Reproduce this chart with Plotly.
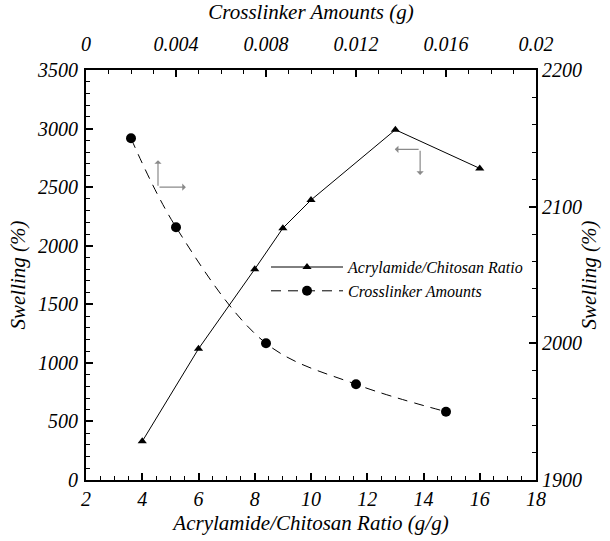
import plotly.graph_objects as go

# Series 1: Acrylamide/Chitosan ratio (bottom x, left y)
ratio_x = [4, 6, 8, 9, 10, 13, 16]
ratio_swelling = [330, 1120, 1800, 2150, 2390, 2990, 2660]

# Series 2: Crosslinker amounts (top x, right y)
cross_x = [0.002, 0.004, 0.008, 0.012, 0.016]
cross_swelling = [2150, 2085, 2000, 1970, 1950]

FONT = "Liberation Serif"
tickfont = dict(family=FONT, size=20, style="italic")
titlefont = dict(family=FONT, size=21, style="italic")

fig = go.Figure()
fig.add_trace(go.Scatter(
    x=ratio_x, y=ratio_swelling, name="Acrylamide/Chitosan Ratio",
    mode="lines+markers", line=dict(color="black", width=1),
    marker=dict(symbol="triangle-up", size=8, color="black"),
    xaxis="x", yaxis="y"))
fig.add_trace(go.Scatter(
    x=cross_x, y=cross_swelling, name="Crosslinker Amounts",
    mode="lines+markers", line=dict(color="black", width=1, dash="10px,7px", shape="spline"),
    marker=dict(symbol="circle", size=10, color="black"),
    xaxis="x2", yaxis="y2"))

axis_common = dict(showgrid=False, zeroline=False, showline=True, linecolor="black",
                   linewidth=2, ticks="inside", tickcolor="black", tickwidth=2,
                   ticklen=7, tickfont=tickfont)

fig.update_layout(
    template="none",
    font=dict(family=FONT, size=16, color="black", style="italic"),
    width=610, height=541,
    margin=dict(l=86, r=74, t=70, b=61),
    paper_bgcolor="white", plot_bgcolor="white",
    showlegend=True,
    legend=dict(x=0.4, y=0.49, xanchor="left", yanchor="middle",
                font=dict(family=FONT, size=16, style="italic"),
                bgcolor="rgba(0,0,0,0)", tracegroupgap=0, itemwidth=72),
    xaxis=dict(range=[2, 18], dtick=2, tick0=2, side="bottom", ticklabelstandoff=0,
               minor=dict(dtick=0.5, ticks="inside", ticklen=4, tickcolor="black", tickwidth=1),
               title=dict(text="Acrylamide/Chitosan Ratio (g/g)", font=titlefont, standoff=6),
               **axis_common),
    yaxis=dict(range=[0, 3500], dtick=500, tick0=0, side="left", ticklabelstandoff=2,
               minor=dict(dtick=100, ticks="inside", ticklen=4, tickcolor="black", tickwidth=1),
               title=dict(text="Swelling (%)", font=titlefont, standoff=6),
               **axis_common),
    xaxis2=dict(range=[0, 0.02], dtick=0.004, tick0=0, side="top", overlaying="x", anchor="y",
                ticklabelstandoff=9,
                minor=dict(dtick=0.001, ticks="inside", ticklen=4, tickcolor="black", tickwidth=1),
                title=dict(text="Crosslinker Amounts (g)", font=titlefont, standoff=10),
                **axis_common),
    yaxis2=dict(range=[1900, 2200], dtick=100, tick0=1900, side="right", overlaying="y", anchor="x",
                ticklabelstandoff=0,
                minor=dict(dtick=20, ticks="inside", ticklen=4, tickcolor="black", tickwidth=1),
                title=dict(text="Swelling (%)", font=titlefont, standoff=0),
                **axis_common),
)

arrow_style = dict(showarrow=True, arrowhead=1, arrowsize=1, arrowwidth=1.2,
                   arrowcolor="#8a8a8a", text="", xref="x", yref="y", axref="x", ayref="y")
# Arrow pointing to left-hand (left/bottom) axes group near the crosslinker curve
fig.add_annotation(x=4.56, y=2730, ax=4.56, ay=2500, **arrow_style)
fig.add_annotation(x=5.55, y=2500, ax=4.56, ay=2500, **arrow_style)
# Arrow pointing to the right axis group near the ratio curve
fig.add_annotation(x=12.98, y=2823, ax=13.88, ay=2823, **arrow_style)
fig.add_annotation(x=13.88, y=2604, ax=13.88, ay=2823, **arrow_style)

fig.write_html("out.html")
